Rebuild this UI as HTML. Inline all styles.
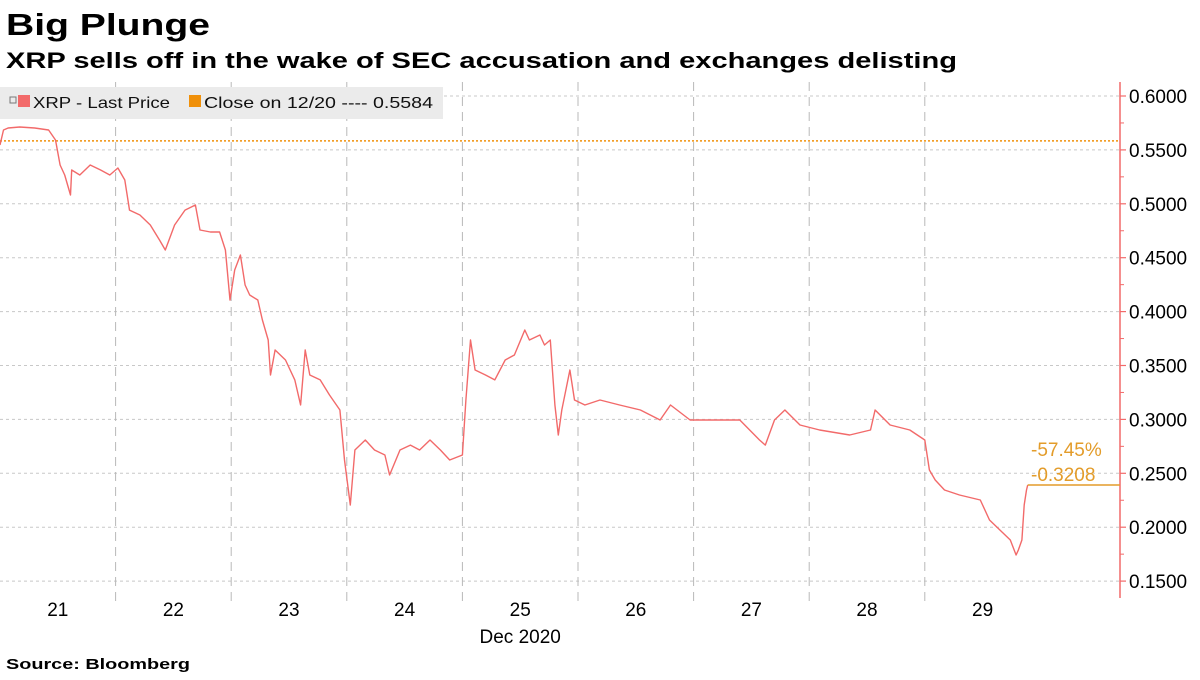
<!DOCTYPE html>
<html><head><meta charset="utf-8"><style>
body{margin:0;background:#fff;font-family:"Liberation Sans",sans-serif;}
svg text{font-family:"Liberation Sans",sans-serif;}
</style></head><body>
<svg id="c" width="1200" height="675" viewBox="0 0 1200 675" xmlns="http://www.w3.org/2000/svg">
<text x="6" y="35" font-size="31" font-weight="bold" fill="#000" textLength="204" lengthAdjust="spacingAndGlyphs">Big Plunge</text>
<text x="6" y="68" font-size="22" font-weight="bold" fill="#000" textLength="951" lengthAdjust="spacingAndGlyphs">XRP sells off in the wake of SEC accusation and exchanges delisting</text>
<g id="grid"></g>
<rect x="0" y="87" width="443" height="32" fill="#ebebeb"/>
<g>
<rect x="10" y="97" width="6" height="6" fill="none" stroke="#777" stroke-width="1"/>
<rect x="18" y="95" width="12" height="12" fill="#f26a6a"/>
<text x="33" y="108" font-size="16" fill="#111" textLength="137" lengthAdjust="spacingAndGlyphs">XRP - Last Price</text></g>
<g>
<rect x="189" y="95" width="12" height="12" fill="#f0900a"/>
<text x="204" y="108" font-size="16" fill="#111" textLength="229" lengthAdjust="spacingAndGlyphs">Close on 12/20 ---- 0.5584</text></g>
<g id="plot"></g>
<text x="1031" y="456" font-size="19" fill="#e39c2a">-57.45%</text>
<text x="6" y="669" font-size="15" font-weight="bold" fill="#000" textLength="184" lengthAdjust="spacingAndGlyphs">Source:  Bloomberg</text>
</svg>
<script>
const days=[0,.03,.07,.17,.30,.42,.48,.52,.56,.61,.62,.69,.78,.87,.95,1.02,1.08,1.12,1.21,1.30,1.38,1.43,1.51,1.60,1.69,1.73,1.82,1.90,1.95,1.99,2.03,2.08,2.12,2.16,2.23,2.27,2.32,2.34,2.38,2.47,2.55,2.60,2.64,2.68,2.77,2.85,2.94,2.98,3.03,3.07,3.16,3.24,3.33,3.37,3.46,3.55,3.63,3.72,3.81,3.89,4.00,4.03,4.07,4.11,4.20,4.28,4.37,4.45,4.54,4.58,4.67,4.71,4.76,4.80,4.83,4.86,4.93,4.97,5.06,5.19,5.36,5.54,5.71,5.80,5.97,6.14,6.40,6.57,6.62,6.70,6.79,6.92,7.09,7.35,7.53,7.57,7.70,7.87,8.00,8.04,8.09,8.17,8.30,8.48,8.56,8.65,8.74,8.79,8.81,8.84,8.86,8.88,8.89];
const prices=[.5545,.5685,.5703,.5712,.5703,.5685,.5592,.536,.5267,.5082,.5314,.5267,.536,.5314,.5267,.5332,.5221,.4942,.4896,.4803,.4664,.4571,.4803,.4942,.4989,.4757,.4738,.4738,.4571,.4108,.4386,.4525,.4247,.4154,.4108,.3922,.3737,.3412,.3644,.3551,.3366,.3134,.3644,.3412,.3366,.3226,.3087,.2623,.2206,.2716,.2809,.2716,.267,.2484,.2716,.2762,.2716,.2809,.2716,.2623,.267,.318,.3737,.3458,.3412,.3366,.3551,.3597,.3829,.3737,.3783,.369,.3737,.3134,.2855,.3087,.3458,.318,.3134,.318,.3134,.3087,.2994,.3134,.2994,.2994,.2994,.2809,.2762,.2994,.3087,.2948,.2902,.2855,.2902,.3087,.2948,.2902,.2809,.2531,.2438,.2345,.2299,.2252,.2067,.1974,.1881,.1742,.1789,.1881,.2206,.2345,.2391];
const yTicks=[0.15,0.2,0.25,0.3,0.35,0.4,0.45,0.5,0.55,0.6];
const dayLabels=["21","22","23","24","25","26","27","28","29"];
const closeValue=0.5584;
const changeLabel="-0.3208";
const NS="http://www.w3.org/2000/svg";
const dayW=115.6;
const x=d=>d*dayW;
const y=v=>96+(0.6-v)*1078;
function mk(tag,attrs,parent){const e=document.createElementNS(NS,tag);for(const k in attrs)e.setAttribute(k,attrs[k]);parent.appendChild(e);return e;}
const grid=document.getElementById('grid'),plot=document.getElementById('plot');
yTicks.forEach((v,i)=>{
 const l=mk('line',{x1:0,x2:1120,y1:y(v),y2:y(v),stroke:'#c8c8c8','stroke-dasharray':'3,3','stroke-width':1},grid);
 
 
 mk('line',{x1:1120,x2:1126,y1:y(v),y2:y(v),stroke:'#f26a6a','stroke-width':1.2},grid);
 if(i<yTicks.length-1) mk('line',{x1:1120,x2:1124,y1:y(v+0.025),y2:y(v+0.025),stroke:'#f26a6a','stroke-width':1},grid);
 const t=mk('text',{x:1129,y:y(v)+7,'font-size':19,fill:'#000'},grid);
 t.textContent=v.toFixed(4);
 
 
});
dayLabels.forEach((d,i)=>{
 if(i>0){const g=mk('line',{x1:x(i),x2:x(i),y1:82,y2:606,stroke:'#b8b8b8','stroke-dasharray':'9,6','stroke-width':1},grid);
 
 }
 const t=mk('text',{x:x(i+0.5),y:616,'font-size':19,fill:'#000','text-anchor':'middle'},grid);
 t.textContent=d;
 
 
});
const xt=mk('text',{x:x(4.5),y:643,'font-size':19,fill:'#000','text-anchor':'middle'},grid);
xt.textContent='Dec 2020';


const ax=mk('line',{x1:1120,x2:1120,y1:82,y2:598,stroke:'#f26a6a','stroke-width':1.5},grid);


const cl=mk('line',{x1:0,x2:1120,y1:y(closeValue),y2:y(closeValue),stroke:'#f0900a','stroke-dasharray':'2,2','stroke-width':1.5},plot);


const pts=days.map((d,i)=>x(d).toFixed(1)+','+y(prices[i]).toFixed(1)).join(' ');
const pl=mk('polyline',{points:pts,fill:'none',stroke:'#f26a6a','stroke-width':1.4,'stroke-linejoin':'round'},plot);


const last=prices[prices.length-1],lx=x(days[days.length-1]);
const el=mk('line',{x1:lx,x2:1120,y1:y(last),y2:y(last),stroke:'#e39c2a','stroke-width':1.5},plot);


const ct=mk('text',{x:1031,y:y(last)-4,'font-size':19,fill:'#e39c2a'},plot);
ct.textContent=changeLabel;


</script>
</body></html>
